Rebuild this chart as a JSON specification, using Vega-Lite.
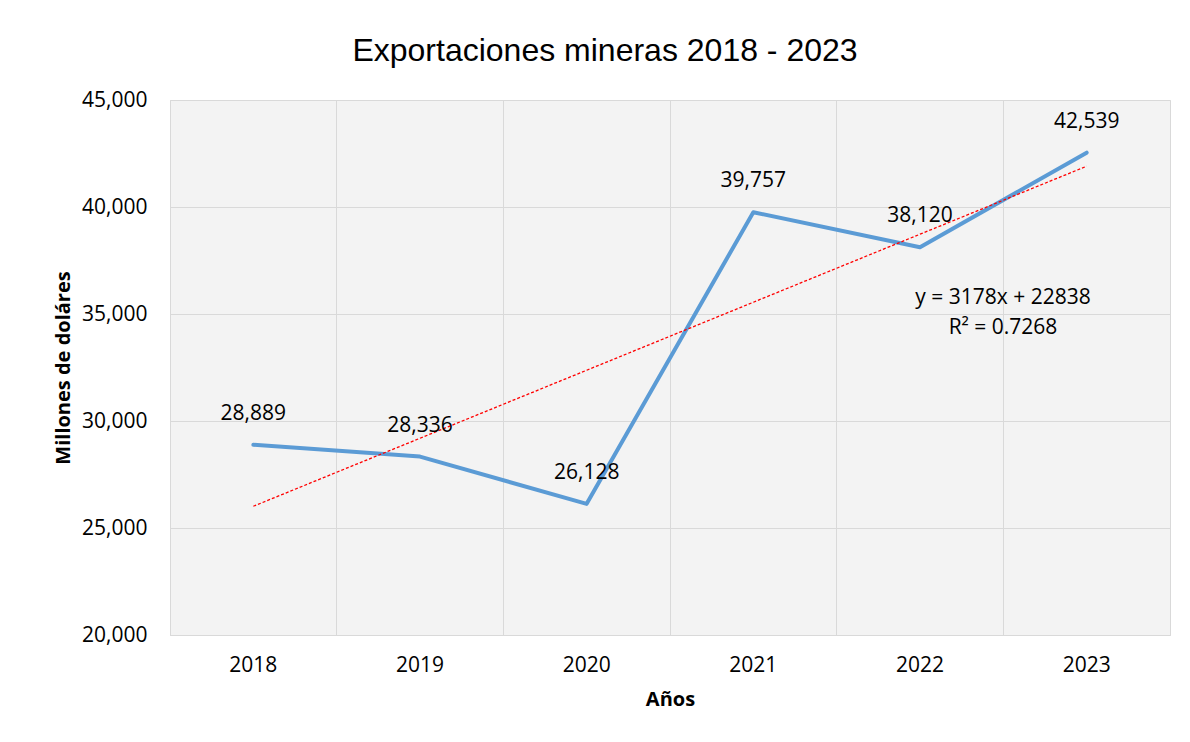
{
  "$schema": "https://vega.github.io/schema/vega-lite/v6.json",
  "width": 1000,
  "height": 535,
  "autosize": {"type": "none"},
  "padding": {"left": 170, "top": 100, "right": 20, "bottom": 107},
  "background": "white",
  "title": {
    "text": "Exportaciones mineras 2018 - 2023",
    "font": "Liberation Sans",
    "fontSize": 32,
    "fontWeight": "normal",
    "color": "#000000",
    "anchor": "middle",
    "dx": -65,
    "offset": 21
  },
  "config": {
    "view": {"fill": "#f3f3f3", "stroke": "#d9d9d9", "strokeWidth": 1},
    "axis": {
      "labelFont": "Open Sans",
      "labelFontSize": 21,
      "labelColor": "#000000",
      "titleFont": "Open Sans",
      "titleFontSize": 20,
      "titleFontWeight": "bold",
      "titleColor": "#000000",
      "gridColor": "#d9d9d9",
      "gridWidth": 1,
      "ticks": false,
      "domainColor": "#d9d9d9"
    },
    "axisY": {
      "title": "Millones de doláres",
      "values": [20000, 25000, 30000, 35000, 40000, 45000],
      "format": ",.0f",
      "labelPadding": 23,
      "titlePadding": 8,
      "grid": true,
      "domain": false
    }
  },
  "datasets": {
    "exports": [
      {"year": "2018", "value": 28889, "trend": 26016},
      {"year": "2019", "value": 28336, "trend": 29194},
      {"year": "2020", "value": 26128, "trend": 32372},
      {"year": "2021", "value": 39757, "trend": 35550},
      {"year": "2022", "value": 38120, "trend": 38728},
      {"year": "2023", "value": 42539, "trend": 41906}
    ],
    "equation": [
      {"year": "2022", "pos": 35748, "label": "y = 3178x + 22838"},
      {"year": "2022", "pos": 34346, "label": "R² = 0.7268"}
    ]
  },
  "encoding": {
    "x": {
      "field": "year",
      "type": "ordinal",
      "scale": {"type": "band", "paddingInner": 0, "paddingOuter": 0, "domain": ["2018", "2019", "2020", "2021", "2022", "2023"]},
      "axis": {
        "title": "Años",
        "labelAngle": 0,
        "labelPadding": 19,
        "titlePadding": 14,
        "grid": true,
        "bandPosition": 0,
        "domain": true
      }
    }
  },
  "layer": [
    {
      "data": {"name": "exports"},
      "mark": {"type": "line", "color": "#5b9bd5", "strokeWidth": 4, "strokeCap": "round", "strokeJoin": "round"},
      "encoding": {
        "y": {
          "field": "value",
          "type": "quantitative",
          "title": "Millones de doláres",
          "scale": {"domain": [20000, 45000], "nice": false, "zero": false},
          "axis": {"format": ",.0f", "values": [20000, 25000, 30000, 35000, 40000, 45000]}
        }
      }
    },
    {
      "data": {"name": "exports"},
      "mark": {"type": "line", "color": "#ff0000", "strokeWidth": 1.3, "strokeDash": [3, 2]},
      "encoding": {
        "y": {"field": "trend", "type": "quantitative", "title": "Millones de doláres", "axis": {"format": ",.0f", "values": [20000, 25000, 30000, 35000, 40000, 45000]}}
      }
    },
    {
      "data": {"name": "exports"},
      "mark": {"type": "text", "font": "Open Sans", "fontSize": 21, "color": "#000000", "dy": -31, "align": "center", "baseline": "middle"},
      "encoding": {
        "y": {"field": "value", "type": "quantitative", "title": "Millones de doláres", "axis": {"format": ",.0f", "values": [20000, 25000, 30000, 35000, 40000, 45000]}},
        "text": {"field": "value", "type": "quantitative", "format": ",.0f"}
      }
    },
    {
      "data": {"name": "equation"},
      "mark": {"type": "text", "font": "Open Sans", "fontSize": 21, "color": "#000000", "dx": 83, "align": "center", "baseline": "middle"},
      "encoding": {
        "y": {"field": "pos", "type": "quantitative", "title": "Millones de doláres", "axis": {"format": ",.0f", "values": [20000, 25000, 30000, 35000, 40000, 45000]}},
        "text": {"field": "label", "type": "nominal"}
      }
    }
  ]
}
